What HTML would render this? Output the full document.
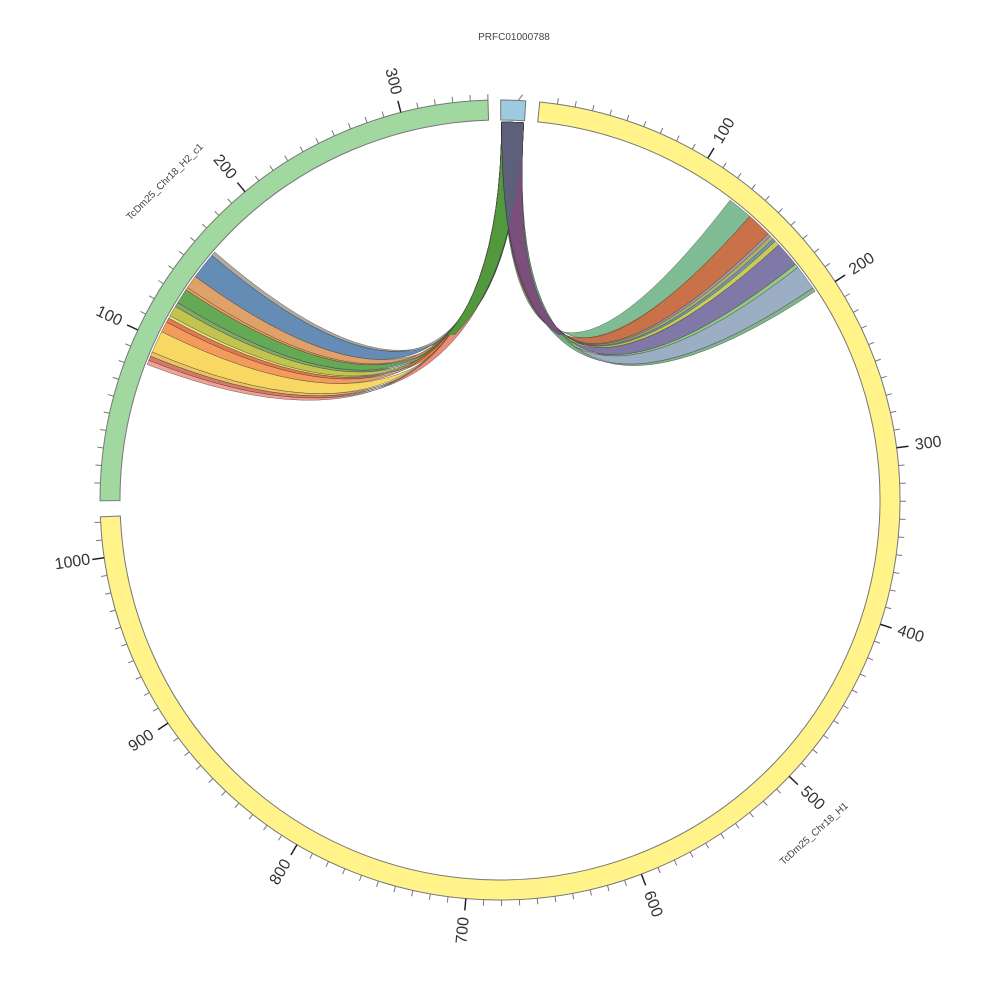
<!DOCTYPE html>
<html><head><meta charset="utf-8"><style>body{margin:0;background:#fff}svg{display:block}text{font-family:"Liberation Sans",sans-serif}</style></head>
<body>
<svg id="s" width="1000" height="1000" viewBox="0 0 1000 1000">
<defs><clipPath id="cg"><path id="cgp"/></clipPath><clipPath id="top"><rect x="410" y="0" width="180" height="335"/></clipPath></defs>
<g id="rib"></g><g id="ov" clip-path="url(#top)"></g><g id="ring"></g><g id="tk"></g>
<g id="lab" fill="#333" font-size="16" text-anchor="middle" dominant-baseline="central">
<text data-seg="y" data-v="100">100</text><text data-seg="y" data-v="200">200</text><text data-seg="y" data-v="300">300</text><text data-seg="y" data-v="400">400</text><text data-seg="y" data-v="500">500</text><text data-seg="y" data-v="600">600</text><text data-seg="y" data-v="700">700</text><text data-seg="y" data-v="800">800</text><text data-seg="y" data-v="900">900</text><text data-seg="y" data-v="1000">1000</text>
<text data-seg="g" data-v="100">100</text><text data-seg="g" data-v="200">200</text><text data-seg="g" data-v="300">300</text>
</g>
<text x="514" y="40" font-size="10" fill="#444" text-anchor="middle">PRFC01000788</text>
<text x="816" y="836" font-size="10" fill="#444" text-anchor="middle" transform="rotate(-42 816 836)">TcDm25_Chr18_H1</text>
<text x="167" y="184" font-size="10" fill="#444" text-anchor="middle" transform="rotate(-45 167 184)">TcDm25_Chr18_H2_c1</text>
</svg>
<script>
const C=500,R0=380,R1=400,RL=378;
function P(a,r){a=a*Math.PI/180;return [C+r*Math.sin(a),C-r*Math.cos(a)];}
function f(p){return p[0].toFixed(2)+","+p[1].toFixed(2);}
const NS="http://www.w3.org/2000/svg";
function el(t,at,par){const e=document.createElementNS(NS,t);for(const k in at)e.setAttribute(k,at[k]);document.getElementById(par).appendChild(e);return e;}
function arcSeg(a1,a2,fill){const l=(a2-a1)>180?1:0;
 el("path",{d:"M"+f(P(a1,R1))+"A"+R1+","+R1+" 0 "+l+" 1 "+f(P(a2,R1))+"L"+f(P(a2,R0))+"A"+R0+","+R0+" 0 "+l+" 0 "+f(P(a1,R0))+"Z",fill:fill,stroke:"#777","stroke-width":1},"ring");}
const seg={y:{a0:5.7,k:0.256,len:1023,color:"#fff38a"},g:{a0:269.9,k:0.2525,len:350,color:"#a0d8a0"}};
arcSeg(0.1,3.7,"#9ecae1");
for(const s in seg){const S=seg[s];arcSeg(S.a0,S.a0+S.len*S.k,S.color);
 for(let v=10;v<=S.len;v+=10){const a=S.a0+v*S.k,maj=v%100==0;
  el("line",{x1:P(a,R1)[0],y1:P(a,R1)[1],x2:P(a,R1+(maj?12:6))[0],y2:P(a,R1+(maj?12:6))[1],stroke:maj?"#222":"#777","stroke-width":maj?1.5:1},"tk");}}
el("line",{x1:P(2.6,R1)[0],y1:P(2.6,R1)[1],x2:P(3.2,R1+6)[0],y2:P(3.2,R1+6)[1],stroke:"#777"},"tk");
document.querySelectorAll("#lab text").forEach(t=>{const S=seg[t.dataset.seg];const a=S.a0+(+t.dataset.v)*S.k;const p=P(a,432);
 let rot=a<180?a-90:a+90;t.setAttribute("x",p[0]);t.setAttribute("y",p[1]);t.setAttribute("transform","rotate("+rot+" "+p[0]+" "+p[1]+")");});
function rpath(s1,s2,t1,t2){
 return "M"+f(P(s1,RL))+"A"+RL+","+RL+" 0 0 1 "+f(P(s2,RL))+"Q"+C+","+C+" "+f(P(t2,RL))+"A"+RL+","+RL+" 0 0 0 "+f(P(t1,RL))+"Q"+C+","+C+" "+f(P(s1,RL))+"Z";}
function ribbon(s1,s2,t1,t2,col,op,par){
 el("path",{d:rpath(s1,s2,t1,t2),fill:col,"fill-opacity":op||0.85,stroke:"#333","stroke-width":0.5,"stroke-opacity":0.7},par||"rib");}
const S1=0.25,S2=3.6;
const gs=[["#a09a90",0.5],["#4a78a8",3],["#d89050",1.5],["#f08a40",0.3],["#4a9a3a",1.7],["#6a9a50",0.5],["#b8b830",1.2],["#e0e060",0.3],["#e06030",0.5],["#f08a40",1.2],["#f8d048",2.5],["#e8b848",0.5],["#d06050",0.5],["#f09080",0.5]];
const ys=[["#6ab080",2.5],["#c05828",2.5],["#908898",0.3],["#a0a050",0.4],["#5a88a8",0.3],["#c0c040",0.5],["#6a6098",2.5],["#80c070",0.4],["#8aa0b8",2.5],["#6aa878",0.4]];
function layout(list,tA,tB){const tot=list.reduce((a,b)=>a+b[1],0);let acc=0;
 list.forEach(([c,w])=>{const f0=acc/tot,f1=(acc+w)/tot;acc+=w;
  let t1=tA+(tB-tA)*f0,t2=tA+(tB-tA)*f1;if(t1>t2)[t1,t2]=[t2,t1];ribbon(S1,S2,t1,t2,c);});}
layout(gs,311,291);
layout(ys,37.5,56.5);
ribbon(S1,S2,300,302,"#4a9a3a",0.95,"ov");
ribbon(S1,S2,46,48,"#7a4a7a",0.95,"ov");
document.getElementById("cgp").setAttribute("d",rpath(S1,S2,300,302));
el("path",{d:rpath(S1,S2,46,48),fill:"#5c6078","clip-path":"url(#cg)",stroke:"#333","stroke-width":0.5},"ov");
</script>
</body></html>
